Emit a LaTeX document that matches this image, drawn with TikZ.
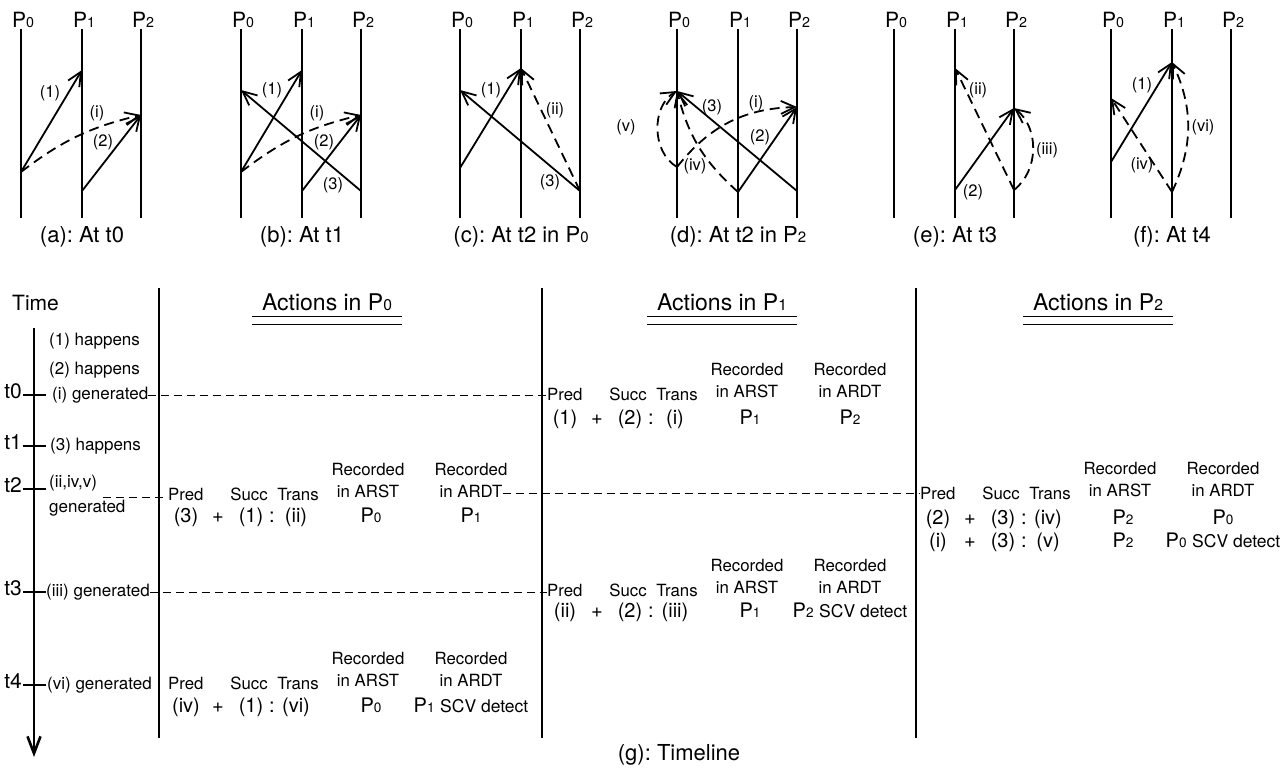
\documentclass[tikz,border=0pt]{standalone}
\usepackage{fontspec}
\setmainfont{TeX Gyre Heros}
\usetikzlibrary{arrows.meta, positioning, calc}
\frenchspacing

\newcommand{\pxfont}[1]{\fontsize{#1}{#1}\selectfont}
\newcommand{\Pn}[1]{P\scalebox{0.68}{#1}}

% three process lines, their names and the caption of one snapshot
\newcommand{\procpanel}[3]{%
    \foreach \i/\dx in {0/0, 1/61, 2/120} {
        \coordinate (#1\i-top) at (#2+\dx,29);
        \coordinate (#1\i-bot) at (#2+\dx,218);
        \draw[proc] (#1\i-top) -- (#1\i-bot);
        \node[pname, above=1pt of #1\i-top, xshift=2pt] (#1\i-name) {\Pn{\i}};
    }
    \node[subcap, below=8pt of #11-bot] (#1-cap) {#3};
}

% column heads of one action entry
\newcommand{\actionhead}[3]{%
    \node[head, anchor=mid west] (#1-pred) at (#2,#3) {Pred};
    \node[head] (#1-succ)  at (#2+81,#3)     {Succ};
    \node[head] (#1-trans) at (#2+130,#3)    {Trans};
    \node[head] (#1-rec1)  at (#2+200,#3-25) {Recorded};
    \node[head] (#1-arst)  at (#2+200,#3-3)  {in ARST};
    \node[head] (#1-rec2)  at (#2+303,#3-25) {Recorded};
    \node[head] (#1-ardt)  at (#2+303,#3-3)  {in ARDT};
}

% one row of values under the column heads
\newcommand{\actionvals}[8]{%
    \node[val] (#1-a)    at (#2+18,#3)  {#4};
    \node[val] (#1-plus) at (#2+50,#3)  {+};
    \node[val] (#1-b)    at (#2+83,#3)  {#5};
    \node[val] (#1-col)  at (#2+104,#3) {:};
    \node[val] (#1-c)    at (#2+128,#3) {#6};
    \node[val] (#1-arst) at (#2+203,#3) {#7};
    \node[val] (#1-ardt) at (#2+303,#3) {#8};
}

\begin{document}
\begin{tikzpicture}[
    x=1pt, y=-1pt,
    proc/.style={line width=2pt},
    msg/.style={
        line width=1.8pt,
        -{Straight Barb[length=14pt,width=13pt]}
    },
    trans/.style={msg, dash pattern=on 10pt off 6pt},
    lbl/.style={inner sep=0pt, font=\pxfont{16.5}},
    pname/.style={inner sep=0pt, font=\pxfont{21}},
    subcap/.style={inner sep=0pt, font=\pxfont{22}},
    header/.style={inner sep=0pt, anchor=mid, font=\pxfont{23}},
    rule/.style={line width=1pt},
    divider/.style={line width=1.3pt},
    timeaxis/.style={
        line width=2.6pt,
        -{Straight Barb[length=17pt,width=13pt]}
    },
    tickmark/.style={line width=1.2pt},
    timeline/.style={line width=1pt, dash pattern=on 8pt off 5pt},
    tlabel/.style={inner sep=0pt, font=\pxfont{21}},
    event/.style={inner sep=0pt, anchor=mid west, font=\pxfont{17}},
    head/.style={inner sep=0pt, anchor=mid, font=\pxfont{16.8}},
    val/.style={inner sep=0pt, anchor=mid, font=\pxfont{20}}
]

\useasboundingbox (0,0) rectangle (1286,773);

% ------------------------------------------------
% (a): At t0
% ------------------------------------------------

\procpanel{a}{21}{(a): At t0}

\coordinate (a-s1) at (21,172);
\coordinate (a-r1) at (82,70);
\coordinate (a-s2) at (82,191);
\coordinate (a-r2) at (141,115);

\draw[msg] (a-s1) -- (a-r1);
\draw[trans] (a-s1) to[bend left=12] (a-r2);
\draw[msg] (a-s2) -- (a-r2);

\node[lbl] (a-l1) at (50,93)   {(1)};
\node[lbl] (a-li) at (97,113)  {(i)};
\node[lbl] (a-l2) at (103,142) {(2)};

% ------------------------------------------------
% (b): At t1
% ------------------------------------------------

\procpanel{b}{241}{(b): At t1}

\coordinate (b-s1) at (241,172);
\coordinate (b-r1) at (302,70);
\coordinate (b-s2) at (302,191);
\coordinate (b-r2) at (361,115);
\coordinate (b-s3) at (361,191);
\coordinate (b-r3) at (241,90);

\draw[msg] (b-s1) -- (b-r1);
\draw[trans] (b-s1) to[bend left=12] (b-r2);
\draw[msg] (b-s2) -- (b-r2);
\draw[msg] (b-s3) -- (b-r3);

\node[lbl] (b-l1) at (272,90)  {(1)};
\node[lbl] (b-li) at (317,113) {(i)};
\node[lbl] (b-l2) at (324,142) {(2)};
\node[lbl] (b-l3) at (333,185) {(3)};

% ------------------------------------------------
% (c): At t2 in P0
% ------------------------------------------------

\procpanel{c}{460}{(c): At t2 in \Pn{0}}

\coordinate (c-s1) at (460,168);
\coordinate (c-r1) at (521,68);
\coordinate (c-s3) at (580,191);
\coordinate (c-r3) at (460,90);

\draw[msg] (c-s1) -- (c-r1);
\draw[msg] (c-s3) -- (c-r3);
\draw[trans] (c-s3) -- (c-r1);

\node[lbl] (c-l1)  at (491,90)  {(1)};
\node[lbl] (c-lii) at (555,110) {(ii)};
\node[lbl] (c-l3)  at (550,182) {(3)};

% ------------------------------------------------
% (d): At t2 in P2
% ------------------------------------------------

\procpanel{d}{677}{(d): At t2 in \Pn{2}}

\coordinate (d-s3) at (797,191);
\coordinate (d-r3) at (677,91);
\coordinate (d-si) at (677,167);
\coordinate (d-ri) at (797,107);
\coordinate (d-s2) at (738,192);

\draw[msg] (d-s3) -- (d-r3);
\draw[trans] (d-si) to[bend left=25] (d-ri);
\draw[msg] (d-s2) -- (d-ri);
\draw[trans] (d-s2) to[bend left=17] (d-r3);
\draw[trans] (d-si) to[bend left=60] (d-r3);

\node[lbl] (d-l3)  at (712,107) {(3)};
\node[lbl] (d-li)  at (756,103) {(i)};
\node[lbl] (d-l2)  at (760,137) {(2)};
\node[lbl] (d-liv) at (695,166) {(iv)};
\node[lbl] (d-lv)  at (626,127) {(v)};

% ------------------------------------------------
% (e): At t3
% ------------------------------------------------

\procpanel{e}{894}{(e): At t3}

\coordinate (e-s) at (1014,190);
\coordinate (e-rii) at (955,68);
\coordinate (e-s2) at (955,190);
\coordinate (e-r2) at (1014,108);

\draw[trans] (e-s) -- (e-rii);
\draw[msg] (e-s2) -- (e-r2);
\draw[trans] (e-s) to[bend right=52] (e-r2);

\node[lbl] (e-lii)  at (978,90)   {(ii)};
\node[lbl] (e-l2)   at (973,192)  {(2)};
\node[lbl] (e-liii) at (1047,150) {(iii)};

% ------------------------------------------------
% (f): At t4
% ------------------------------------------------

\procpanel{f}{1111}{(f): At t4}

\coordinate (f-s1) at (1111,162);
\coordinate (f-r1) at (1172,62);
\coordinate (f-s) at (1172,192);
\coordinate (f-riv) at (1111,98);

\draw[msg] (f-s1) -- (f-r1);
\draw[trans] (f-s) -- (f-riv);
\draw[trans] (f-s) to[bend right=25] (f-r1);

\node[lbl] (f-l1)  at (1142,85)  {(1)};
\node[lbl] (f-liv) at (1142,165) {(iv)};
\node[lbl] (f-lvi) at (1203,127) {(vi)};

% ------------------------------------------------
% (g): Timeline, time axis
% ------------------------------------------------

\node[tlabel, anchor=mid west] (time) at (12,308) {Time};

\coordinate (axis-top) at (34,328);
\coordinate (axis-end) at (34,757);
\draw[timeaxis] (axis-top) -- (axis-end);

\foreach \t/\y in {0/395, 1/446, 2/489, 3/592, 4/685} {
    \draw[tickmark] (23,\y) -- (46,\y);
    \node[tlabel, anchor=mid east] (t\t) at (22,\y+1) {t\t};
}

\node[event] (ev1)   at (49,343) {(1) happens};
\node[event] (ev2)   at (49,372) {(2) happens};
\node[event] (evi)   at (52,397) {(i) generated};
\node[event] (ev3)   at (50,448) {(3) happens};
\node[event] (evii)  at (49,485) {(ii,iv,v)};
\node[event] (evgen) at (49,510) {generated};
\node[event] (eviii) at (46,594) {(iii) generated};
\node[event] (evvi)  at (47,687) {(vi) generated};

% ------------------------------------------------
% Column dividers and headers
% ------------------------------------------------

\foreach \x [count=\k from 0] in {159, 542, 916} {
    \coordinate (div\k-top) at (\x,288);
    \coordinate (div\k-bot) at (\x,738);
    \draw[divider] (div\k-top) -- (div\k-bot);
}

\foreach \k/\x in {0/327, 1/722, 2/1098} {
    \node[header] (hd\k) at (\x,308) {Actions in \Pn{\k}};
    \draw[rule] ($(hd\k.base west)+(-10,6)$) -- ($(hd\k.base east)+(10,6)$);
    \draw[rule] ($(hd\k.base west)+(-10,14)$) -- ($(hd\k.base east)+(10,14)$);
}

% ------------------------------------------------
% Actions
% ------------------------------------------------

% P1 at t0
\actionhead{p1a}{547}{398}
\actionvals{p1av}{547}{422}{(1)}{(2)}{(i)}{\Pn{1}}{\Pn{2}}

% P0 at t2
\actionhead{p0a}{168}{498}
\actionvals{p0av}{168}{520}{(3)}{(1)}{(ii)}{\Pn{0}}{\Pn{1}}

% P2 at t2
\actionhead{p2a}{920}{497}
\actionvals{p2av}{920}{522}{(2)}{(3)}{(iv)}{\Pn{2}}{\Pn{0}}
\actionvals{p2aw}{920}{545}{(i)}{(3)}{(v)}{\Pn{2}}{\Pn{0} {\pxfont{17.5}SCV detect}}

% P1 at t3
\actionhead{p1b}{547}{594}
\actionvals{p1bv}{547}{615}{(ii)}{(2)}{(iii)}{\Pn{1}}{\Pn{2} {\pxfont{17.5}SCV detect}}

% P0 at t4
\actionhead{p0b}{168}{687}
\actionvals{p0bv}{168}{710}{(iv)}{(1)}{(vi)}{\Pn{0}}{\Pn{1} {\pxfont{17.5}SCV detect}}

% ------------------------------------------------
% Dashed time lines
% ------------------------------------------------

\draw[timeline] (evi.east) -- (evi.east -| p1a-pred.west);

\coordinate (t2-start) at (103,497);
\draw[timeline] (t2-start) -- (t2-start -| p0a-pred.west);
\draw[timeline] (p0a-ardt.east |- p2a-pred.west) -- (p2a-pred.west);

\draw[timeline] (eviii.east) -- (eviii.east -| p1b-pred.west);

\node[subcap] (g-cap) at (679,755) {(g): Timeline};

\end{tikzpicture}
\end{document}
